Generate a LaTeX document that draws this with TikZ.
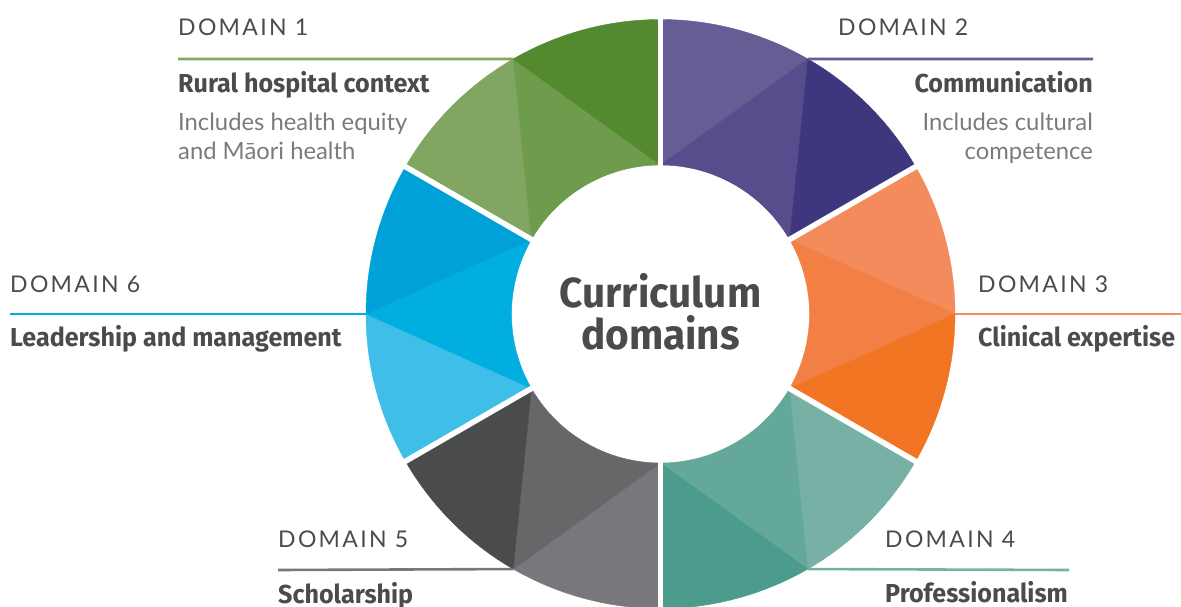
\documentclass[tikz,border=0pt]{standalone}
\usepackage{fontspec}
\setmainfont{Lato}
\newfontfamily\headfont[FakeStretch=0.965]{Fira Sans}
\newfontfamily\tagfont[LetterSpace=10]{Lato}
\usetikzlibrary{positioning}

\definecolor{grnL}{HTML}{80A662}
\definecolor{grnM}{HTML}{6E9B4C}
\definecolor{grnD}{HTML}{538A2F}
\definecolor{purL}{HTML}{665D95}
\definecolor{purM}{HTML}{574C8C}
\definecolor{purD}{HTML}{3F377E}
\definecolor{orgL}{HTML}{F48B5D}
\definecolor{orgM}{HTML}{F27F43}
\definecolor{orgD}{HTML}{F27524}
\definecolor{tealL}{HTML}{77B1A6}
\definecolor{tealM}{HTML}{63A899}
\definecolor{tealD}{HTML}{4C9C8D}
\definecolor{grayL}{HTML}{78787C}
\definecolor{grayM}{HTML}{67676A}
\definecolor{grayD}{HTML}{4A4B4D}
\definecolor{bluL}{HTML}{3FBEE9}
\definecolor{bluM}{HTML}{00AEE0}
\definecolor{bluD}{HTML}{00A0D9}
\definecolor{txt}{HTML}{4A4B4D}
\definecolor{subtxt}{HTML}{7B7B7E}

\tikzset{
  piece/.style={fill=#1, draw=#1, line width=0.4pt},
  domtag/.style={font=\tagfont\fontsize{23}{23}\selectfont, text=txt, inner sep=0pt},
  domname/.style={font=\headfont\bfseries\fontsize{26}{26}\selectfont, text=txt, inner sep=0pt},
  domnote/.style={font=\fontsize{23.8}{29}\selectfont, text=subtxt, inner sep=0pt},
  leader/.style={line width=2.6pt},
}

\begin{document}
\begin{tikzpicture}[x=1pt,y=1pt]
    \useasboundingbox (0,0) rectangle (1181,606);
    \clip (0,0) rectangle (1181,606);

    % ring
    \begin{scope}[shift={(660.5,292)}]
        \def\R{294.5}
        \def\r{149}
        \foreach \a/\cl/\cm/\cd in {90/purL/purM/purD, 30/orgL/orgM/orgD, -30/tealL/tealM/tealD,
                                    -90/grayL/grayM/grayD, -150/bluL/bluM/bluD, 150/grnL/grnM/grnD}{
            \filldraw[piece=\cl] (\a:\R) arc[start angle=\a, end angle=\a-30, radius=\R] -- (\a:\r) -- cycle;
            \filldraw[piece=\cm] ({\a-30}:\R) -- (\a:\r) arc[start angle=\a, end angle=\a-60, radius=\r] -- cycle;
            \filldraw[piece=\cd] ({\a-30}:\R) arc[start angle=\a-30, end angle=\a-60, radius=\R] -- ({\a-60}:\r) -- cycle;
        }
        \foreach \a in {90,30,-30,-90,-150,-210}
            \draw[white, line width=5.5pt] (\a:140) -- (\a:305);

        \coordinate (o1) at (60:\R);
        \coordinate (o3) at (0:\R);
        \coordinate (o5) at (-60:\R);
        \coordinate (o7) at (-120:\R);
        \coordinate (o9) at (180:\R);
        \coordinate (o11) at (120:\R);

        % base of the last line
        \node[anchor=base, align=center, text=txt, inner sep=0pt,
              font=\headfont\bfseries\fontsize{42}{42}\selectfont] (core) at (0,-35) {Curriculum\\domains};
    \end{scope}

    % domain 1
    \node[domtag, anchor=base west] (tag1) at (178,570) {DOMAIN 1};
    \coordinate (l1) at (178,547);
    \draw[leader, grnL] (l1) -- (o11);
    \node[domname, anchor=base west] (name1) at (178,513) {Rural hospital context};
    \node[domnote, anchor=base west, align=left] (note1) at (178,446) {Includes health equity\\and Māori health};

    % domain 2
    \node[domtag, anchor=base west] (tag2) at (838,570) {DOMAIN 2};
    \coordinate (r2) at (1093,547);
    \draw[leader, purL] (o1) -- (r2);
    \node[domname, anchor=base east] (name2) at (1093,513) {Communication};
    \node[domnote, anchor=base east, align=right] (note2) at (1093,446) {Includes cultural\\competence};

    % domain 3
    \node[domtag, anchor=base west] (tag3) at (978,313) {DOMAIN 3};
    \coordinate (r3) at (1181,292);
    \draw[leader, orgL] (o3) -- (r3);
    \node[domname, anchor=base west] (name3) at (978,259) {Clinical expertise};

    % domain 4
    \node[domtag, anchor=base west] (tag4) at (885,59) {DOMAIN 4};
    \coordinate (r4) at (1069,36);
    \draw[leader, tealL] (o5) -- (r4);
    \node[domname, anchor=base west] (name4) at (885,4) {Professionalism};

    % domain 5
    \node[domtag, anchor=base west] (tag5) at (278,59) {DOMAIN 5};
    \coordinate (l5) at (278,36);
    \draw[leader, grayL] (l5) -- (o7);
    \node[domname, anchor=base west] (name5) at (278,3) {Scholarship};

    % domain 6
    \node[domtag, anchor=base west] (tag6) at (10,313) {DOMAIN 6};
    \coordinate (l6) at (10,292);
    \draw[leader, bluM] (l6) -- (o9);
    \node[domname, anchor=base west] (name6) at (10,259) {Leadership and management};
\end{tikzpicture}
\end{document}
